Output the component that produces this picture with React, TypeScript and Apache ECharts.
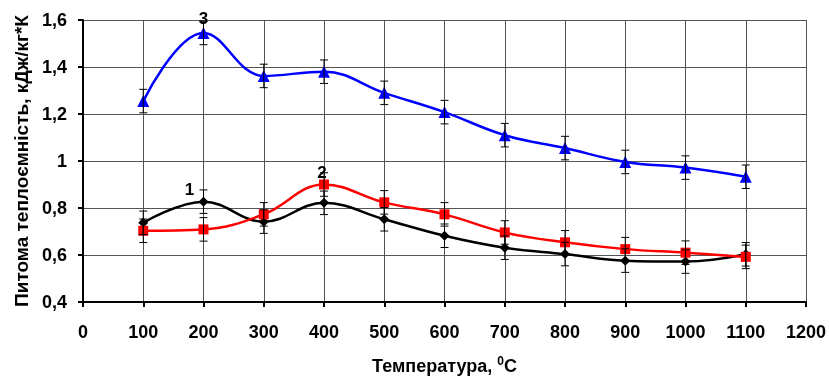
import React, { useEffect, useRef } from "react";
import * as echarts from "echarts";

const temps = [100, 200, 300, 400, 500, 600, 700, 800, 900, 1000, 1100];
const series1 = [0.737, 0.827, 0.742, 0.822, 0.752, 0.682, 0.631, 0.604, 0.576, 0.572, 0.603];
const series2 = [0.703, 0.709, 0.773, 0.9, 0.824, 0.773, 0.696, 0.654, 0.625, 0.61, 0.592];
const series3 = [1.255, 1.545, 1.362, 1.38, 1.29, 1.208, 1.11, 1.055, 0.996, 0.972, 0.933];
const errorValue = 0.05;
const xTicks = { min: 0, max: 1200, interval: 100 };
const yTicks = { min: 0.4, max: 1.6, interval: 0.2 };

const FONT = "'Liberation Sans', Arial, sans-serif";

function errorData(vals: number[]) {
  return temps.map((t, i) => [t, vals[i] - errorValue, vals[i] + errorValue]);
}

export default function App() {
  const ref = useRef<HTMLDivElement>(null);
  useEffect(() => {
    if (!ref.current) return;
    const chart = echarts.init(ref.current, undefined, { renderer: "svg" });
    const renderErr = (params: any, api: any) => {
      const x = api.value(0);
      const lo = api.coord([x, api.value(1)]);
      const hi = api.coord([x, api.value(2)]);
      const w = 4;
      const style = { stroke: "#000", lineWidth: 1 };
      return {
        type: "group",
        children: [
          { type: "line", shape: { x1: lo[0], y1: lo[1], x2: hi[0], y2: hi[1] }, style },
          { type: "line", shape: { x1: lo[0] - w, y1: lo[1], x2: lo[0] + w, y2: lo[1] }, style },
          { type: "line", shape: { x1: hi[0] - w, y1: hi[1], x2: hi[0] + w, y2: hi[1] }, style },
        ],
      };
    };
    const lineSeries = (name: string, vals: number[], color: string, symbol: string, size: number, labelIdx: number, labelText: string, labelOffset: number[]) => ({
      name,
      type: "line",
      smooth: 0.4,
      data: temps.map((t, i) => {
        const item: any = { value: [t, vals[i]] };
        if (i === labelIdx) {
          item.label = {
            show: true,
            formatter: labelText,
            position: "top",
            offset: labelOffset,
            fontFamily: FONT,
            fontWeight: "bold",
            fontSize: 17,
            color: "#000",
          };
        }
        return item;
      }),
      symbol,
      symbolSize: size,
      lineStyle: { color, width: 2.5 },
      itemStyle: { color },
      z: 3,
    });
    chart.setOption({
      animation: false,
      grid: { left: 83, right: 23, top: 20, bottom: 76, show: false, outerBoundsMode: "none", containLabel: false },
      xAxis: {
        type: "value",
        min: xTicks.min,
        max: xTicks.max,
        interval: xTicks.interval,
        name: "Температура, {sup|0}C",
        nameLocation: "middle",
        nameGap: 53,
        nameTextStyle: {
          fontFamily: FONT,
          fontWeight: "bold",
          fontSize: 18,
          color: "#000",
          rich: { sup: { fontSize: 12, fontWeight: "bold", fontFamily: FONT, padding: [0, 0, 9, 0], color: "#000" } },
        },
        axisLine: { show: true, lineStyle: { color: "#000", width: 2 } },
        axisTick: { show: true, length: 5, lineStyle: { color: "#000", width: 2 } },
        axisLabel: {
          fontFamily: FONT,
          fontWeight: "bold",
          fontSize: 18,
          color: "#000",
          margin: 21,
          formatter: (v: number) => String(v),
        },
        splitLine: { show: true, lineStyle: { color: "#555", width: 1 } },
      },
      yAxis: {
        type: "value",
        min: yTicks.min,
        max: yTicks.max,
        interval: yTicks.interval,
        name: "Питома теплоємність, кДж/кг*К",
        nameLocation: "middle",
        nameGap: 52,
        nameTextStyle: { fontFamily: FONT, fontWeight: "bold", fontSize: 19, color: "#000" },
        axisLine: { show: true, lineStyle: { color: "#000", width: 2 } },
        axisTick: { show: true, length: 5, lineStyle: { color: "#000", width: 2 } },
        axisLabel: {
          fontFamily: FONT,
          fontWeight: "bold",
          fontSize: 18,
          color: "#000",
          margin: 16,
          formatter: (v: number) => String(+v.toFixed(1)).replace(".", ","),
        },
        splitLine: { show: true, lineStyle: { color: "#555", width: 1 } },
      },
      series: [
        lineSeries("1", series1, "#000000", "diamond", 10, 1, "1", [-14, 6]),
        lineSeries("2", series2, "#ff0000", "rect", 10, 3, "2", [-2, 6]),
        lineSeries("3", series3, "#0000ff", "triangle", 12, 1, "3", [0, 5]),
        { type: "custom", renderItem: renderErr, data: errorData(series1), z: 5 },
        { type: "custom", renderItem: renderErr, data: errorData(series2), z: 5 },
        { type: "custom", renderItem: renderErr, data: errorData(series3), z: 5 },
      ],
    });
    return () => chart.dispose();
  }, []);
  return <div ref={ref} style={{ position: "fixed", left: 0, top: 0, width: 829, height: 378 }} />;
}
